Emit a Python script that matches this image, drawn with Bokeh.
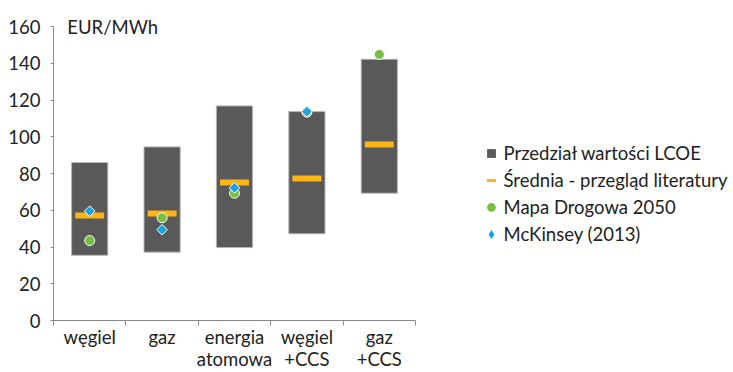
import math
from bokeh.plotting import figure
from bokeh.models import Range1d, FixedTicker, Legend, LegendItem, Label
from bokeh.embed import file_html
from bokeh.resources import INLINE

# ---- data ----
categories = ["węgiel", "gaz", "energia\natomowa", "węgiel\n+CCS", "gaz\n+CCS"]
lcoe_low = [35.5, 37.2, 39.7, 47.2, 69.3]
lcoe_high = [86.0, 94.5, 116.8, 113.7, 142.2]
mean_literature = [57.1, 58.2, 75.1, 77.3, 95.8]
mapa_drogowa_2050 = [43.5, 55.9, 69.3, 113.4, 144.8]
mckinsey_2013 = [59.5, 49.4, 72.2, 113.7, None]
y_ticks = [0, 20, 40, 60, 80, 100, 120, 140, 160]
legend_labels = ["Przedział wartości LCOE", "Średnia - przegląd literatury",
                 "Mapa Drogowa 2050", "McKinsey (2013)"]
unit_label = "EUR/MWh"

FONT = "Lato"
FS = "18.5px"
C_BOX = "#595959"
C_MEAN = "#FDB515"
C_GREEN = "#77BF43"
C_BLUE = "#17A5E2"
C_AXIS = "#8a8a8a"
C_TEXT = "#222222"

xs = [i + 0.5 for i in range(len(categories))]
mk_x = [x for x, v in zip(xs, mckinsey_2013) if v is not None]
mk_y = [v for v in mckinsey_2013 if v is not None]

p = figure(width=733, height=372, x_range=Range1d(0, 9.323), y_range=Range1d(0, 172),
           output_backend="svg", toolbar_location=None,
           min_border_left=53, min_border_right=5, min_border_top=4, min_border_bottom=0)
p.outline_line_color = None
p.grid.visible = False
p.background_fill_color = "white"

# x axis
xa = p.xaxis[0]
xa.ticker = FixedTicker(ticks=xs, minor_ticks=list(range(len(categories) + 1)))
xa.major_label_overrides = {x: c for x, c in zip(xs, categories)}
xa.bounds = (0, len(categories))
xa.major_tick_out = 0
xa.major_tick_in = 0
xa.minor_tick_out = 5
xa.minor_tick_in = 0
xa.minor_tick_line_color = C_AXIS
xa.axis_line_color = C_AXIS
xa.major_label_standoff = 0
xa.major_label_text_font = FONT
xa.major_label_text_font_size = FS
xa.major_label_text_color = C_TEXT
xa.major_label_text_line_height = 1.0

# y axis
ya = p.yaxis[0]
ya.ticker = FixedTicker(ticks=y_ticks)
ya.bounds = (0, 160)
ya.major_tick_out = 3
ya.major_tick_in = 0
ya.minor_tick_out = 0
ya.minor_tick_in = 0
ya.major_tick_line_color = C_AXIS
ya.axis_line_color = C_AXIS
ya.major_label_standoff = 10
ya.major_label_text_font = FONT
ya.major_label_text_font_size = FS
ya.major_label_text_color = C_TEXT

# glyphs
p.vbar(x=xs, bottom=lcoe_low, top=lcoe_high, width=0.5,
       fill_color=C_BOX, line_color="#b5b5b5", line_width=1)
p.rect(x=xs, y=mean_literature, width=0.4, height=6, height_units="screen",
       fill_color=C_MEAN, line_color=None)
p.scatter(x=xs, y=mapa_drogowa_2050, marker="circle", size=10,
          fill_color=C_GREEN, line_color="white", line_width=1)
p.scatter(x=mk_x, y=mk_y, marker="square", angle=math.pi / 4, size=7.5,
          fill_color=C_BLUE, line_color="white", line_width=1)

p.add_layout(Label(x=0.19, y=160, text=unit_label, text_font=FONT,
                   text_font_size=FS, text_color=C_TEXT, text_baseline="middle"))

# legend-only renderers (drawn on an off-screen range)
p.extra_y_ranges = {"legend_only": Range1d(-1000, -999)}
r1 = p.scatter(x=xs, y=lcoe_high, marker="square", fill_color=C_BOX, line_color=None,
               y_range_name="legend_only")
r2 = p.scatter(x=xs, y=mean_literature, marker="dash", line_color=C_MEAN, line_width=3,
               y_range_name="legend_only")
r3 = p.scatter(x=xs, y=mapa_drogowa_2050, marker="circle", fill_color=C_GREEN, line_color=None,
               y_range_name="legend_only")
r4 = p.scatter(x=mk_x, y=mk_y, marker="diamond", fill_color=C_BLUE, line_color=None,
               y_range_name="legend_only")

legend = Legend(items=[LegendItem(label=l, renderers=[r]) for l, r in
                       zip(legend_labels, [r1, r2, r3, r4])],
                location=(426.5, 75.5), orientation="vertical", padding=0, spacing=5,
                margin=0, glyph_width=22, glyph_height=22, label_standoff=2,
                label_height=22, label_text_font=FONT, label_text_font_size=FS,
                label_text_color=C_TEXT, border_line_color=None,
                background_fill_alpha=0)
p.add_layout(legend)

open("out.html", "w").write(file_html(p, INLINE))
